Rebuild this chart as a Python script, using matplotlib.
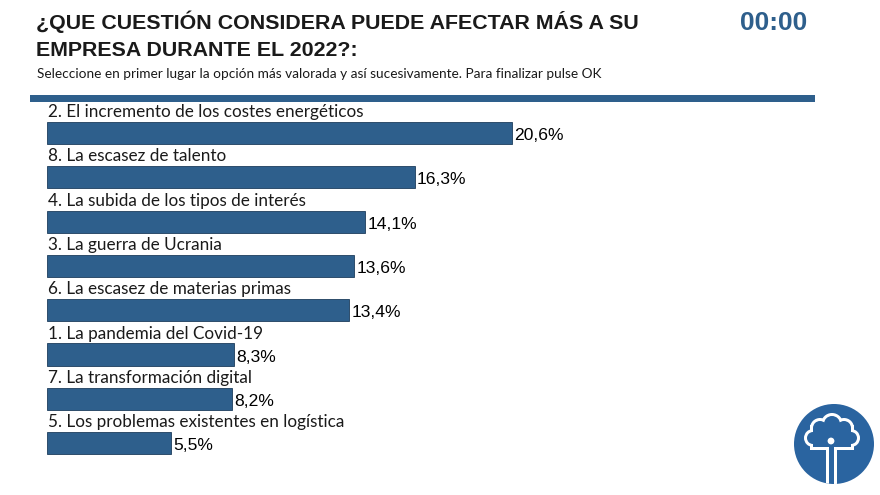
import matplotlib
matplotlib.use("Agg")
import matplotlib.pyplot as plt
from matplotlib.patches import Circle, Rectangle

W, H = 880, 495
categories = [
    "2. El incremento de los costes energéticos",
    "8. La escasez de talento",
    "4. La subida de los tipos de interés",
    "3. La guerra de Ucrania",
    "6. La escasez de materias primas",
    "1. La pandemia del Covid-19",
    "7. La transformación digital",
    "5. Los problemas existentes en logística",
]
values = [20.6, 16.3, 14.1, 13.6, 13.4, 8.3, 8.2, 5.5]
value_labels = ["20,6%", "16,3%", "14,1%", "13,6%", "13,4%", "8,3%", "8,2%", "5,5%"]

title_lines = ["¿QUE CUESTIÓN CONSIDERA PUEDE AFECTAR MÁS A SU", "EMPRESA DURANTE EL 2022?:"]
subtitle = "Seleccione en primer lugar la opción más valorada y así sucesivamente. Para finalizar pulse OK"
timer = "00:00"

BLUE = "#2e5f8c"
LOGO = "#2a64a0"

fig = plt.figure(figsize=(W / 100, H / 100), dpi=100)
fig.patch.set_facecolor("white")

# overlay axes in pixel coordinates for decoration
deco = fig.add_axes([0, 0, 1, 1])
deco.set_xlim(0, W)
deco.set_ylim(H, 0)
deco.axis("off")

deco.text(36, 22, title_lines[0], fontsize=15.4, fontweight="bold", family="Liberation Sans",
          color="#1a1a1a", va="center", ha="left")
deco.text(36, 50, title_lines[1], fontsize=15.4, fontweight="bold", family="Liberation Sans",
          color="#1a1a1a", va="center", ha="left")
deco.text(37, 74, subtitle, fontsize=9.8, family="Lato", color="#1a1a1a", va="center", ha="left")
deco.text(774, 23, timer, fontsize=19, fontweight="bold", family="Liberation Sans",
          color=BLUE, va="center", ha="center")
deco.add_patch(Rectangle((30, 95), 785, 7, color=BLUE, lw=0))

# logo
cx, cy, r = 834, 444, 40
logo_circle = Circle((cx, cy), r, color=LOGO, lw=0)
deco.add_patch(logo_circle)
lobes = [(832, 424, 8), (820, 428, 7), (844, 428, 7), (813, 438, 6), (851, 438, 6)]
t = 3
for (x, y, rr) in lobes:
    deco.add_patch(Circle((x, y), rr + t, color="white", lw=0))
deco.add_patch(Rectangle((813 - t, 428 - t), 38 + 2 * t, 19 + 2 * t, color="white", lw=0))
tr = Rectangle((826, 447), 11, 40, color="white", lw=0)
deco.add_patch(tr)
tr.set_clip_path(logo_circle)
for (x, y, rr) in lobes:
    deco.add_patch(Circle((x, y), rr, color=LOGO, lw=0))
deco.add_patch(Rectangle((813, 428), 38, 19, color=LOGO, lw=0))
tri = Rectangle((829, 445), 5, 42, color=LOGO, lw=0)
deco.add_patch(tri)
tri.set_clip_path(logo_circle)
deco.add_patch(Circle((831, 441), 3.4, color="white", lw=0))

# bar axes
left_px, right_px = 47, 47 + 677
top_px, bot_px = 100, 470
ax = fig.add_axes([left_px / W, 1 - bot_px / H, (right_px - left_px) / W, (bot_px - top_px) / H])
ax.patch.set_alpha(0)
y = list(range(len(values)))
ax.barh(y, values, height=0.5, color=BLUE, edgecolor="#1d3d5c", linewidth=0.6)
ax.set_xlim(0, 30)
ax.set_ylim(7.607, -0.745)
for i, (c, v, lab) in enumerate(zip(categories, values, value_labels)):
    ax.text(0.05, i - 0.47, c, fontsize=12.3, family="Lato", color="#1a1a1a", va="center", ha="left")
    ax.text(v + 0.1, i + 0.06, lab, fontsize=12.6, family="Liberation Sans", color="black", va="center", ha="left")
ax.axis("off")

fig.savefig("out.png", dpi=100, facecolor="white")
